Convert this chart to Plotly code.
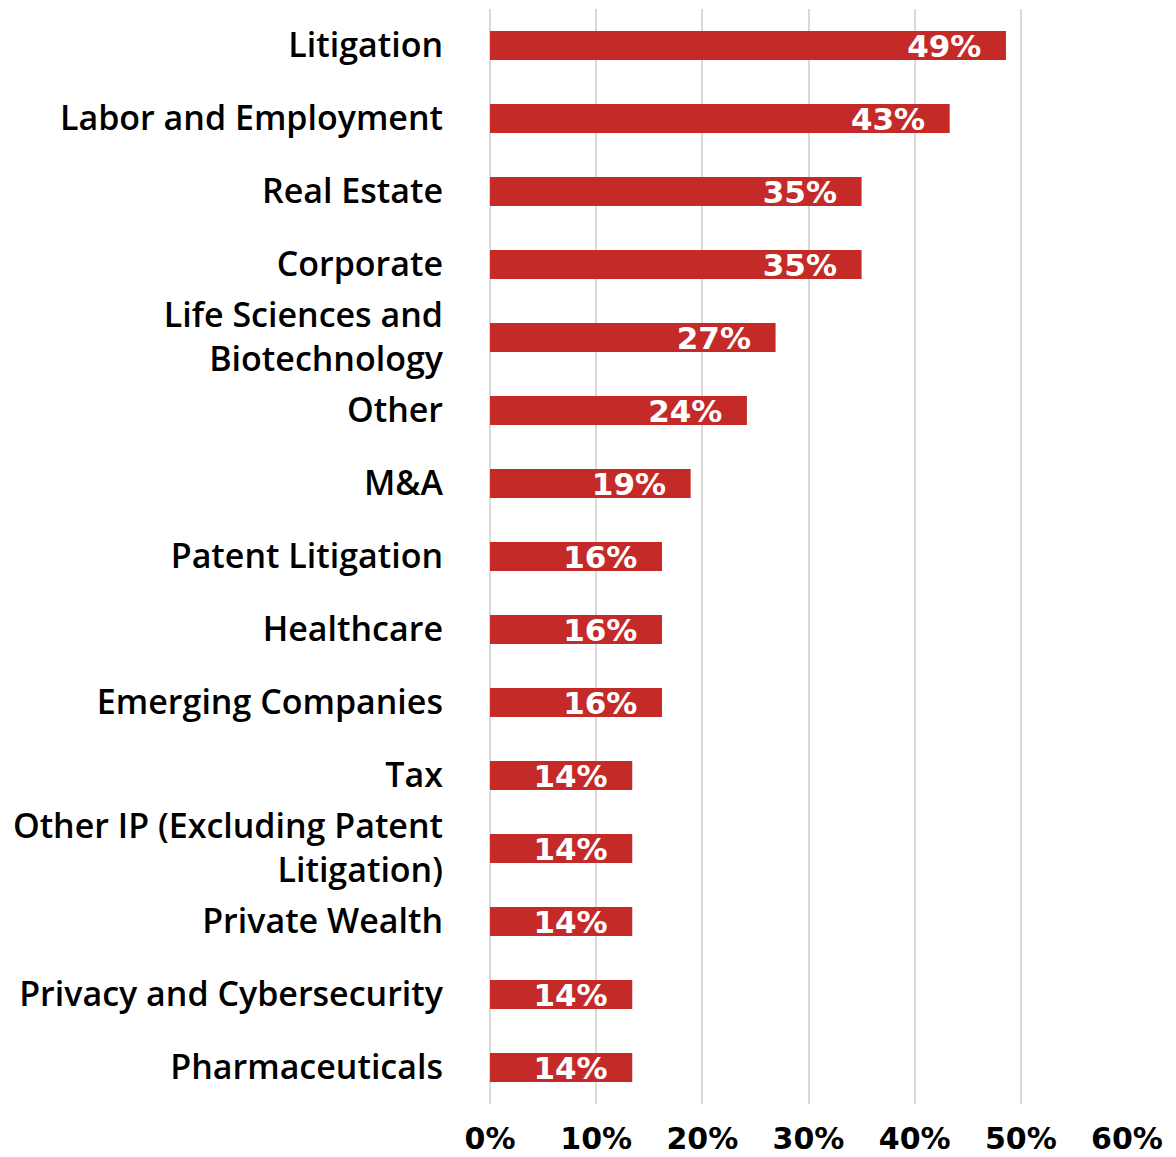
import plotly.graph_objects as go

categories = [
    "Litigation", "Labor and Employment", "Real Estate", "Corporate",
    "Life Sciences and<br>Biotechnology", "Other", "M&A", "Patent Litigation",
    "Healthcare", "Emerging Companies", "Tax",
    "Other IP (Excluding Patent<br>Litigation)", "Private Wealth",
    "Privacy and Cybersecurity", "Pharmaceuticals",
]
values = [48.6, 43.3, 35.0, 35.0, 26.9, 24.2, 18.9, 16.2, 16.2, 16.2, 13.4, 13.4, 13.4, 13.4, 13.4]
labels = ["49%", "43%", "35%", "35%", "27%", "24%", "19%", "16%", "16%", "16%",
          "14%", "14%", "14%", "14%", "14%"]
tick_vals = [0, 10, 20, 30, 40, 50, 60]
tick_text = ["0%", "10%", "20%", "30%", "40%", "50%", "60%"]

CAT_FONT = "Open Sans"
NUM_FONT = "DejaVu Sans"
RED = "#C42B28"

fig = go.Figure(go.Bar(
    x=values, y=categories, orientation="h",
    marker=dict(color=RED, line=dict(width=0)),
    text=[l + "\u00a0\u00a0" for l in labels],
    textposition="inside", insidetextanchor="end",
    textfont=dict(family=NUM_FONT, size=31, color="white", weight=700),
    constraintext="none", cliponaxis=False,
))

fig.update_layout(
    width=1176, height=1157,
    margin=dict(l=490, r=49, t=9, b=53),
    paper_bgcolor="white", plot_bgcolor="white",
    bargap=0.6, showlegend=False,
    font=dict(family=CAT_FONT, color="black"),
)
fig.update_yaxes(
    autorange="reversed", categoryorder="array", categoryarray=categories,
    tickfont=dict(family=CAT_FONT, size=34, color="black", weight=600),
    ticklabelstandoff=46, showgrid=False, showline=False, ticks="",
    automargin=False,
)
fig.update_xaxes(
    range=[0, 60], tickvals=tick_vals, ticktext=tick_text,
    showgrid=True, gridcolor="#D9D9D9", gridwidth=2,
    zeroline=True, zerolinecolor="#D9D9D9", zerolinewidth=2,
    tickfont=dict(family=NUM_FONT, size=30, color="black", weight=700),
    ticklabelstandoff=14, showline=False, ticks="",
    automargin=False,
)

fig.write_html("out.html")
